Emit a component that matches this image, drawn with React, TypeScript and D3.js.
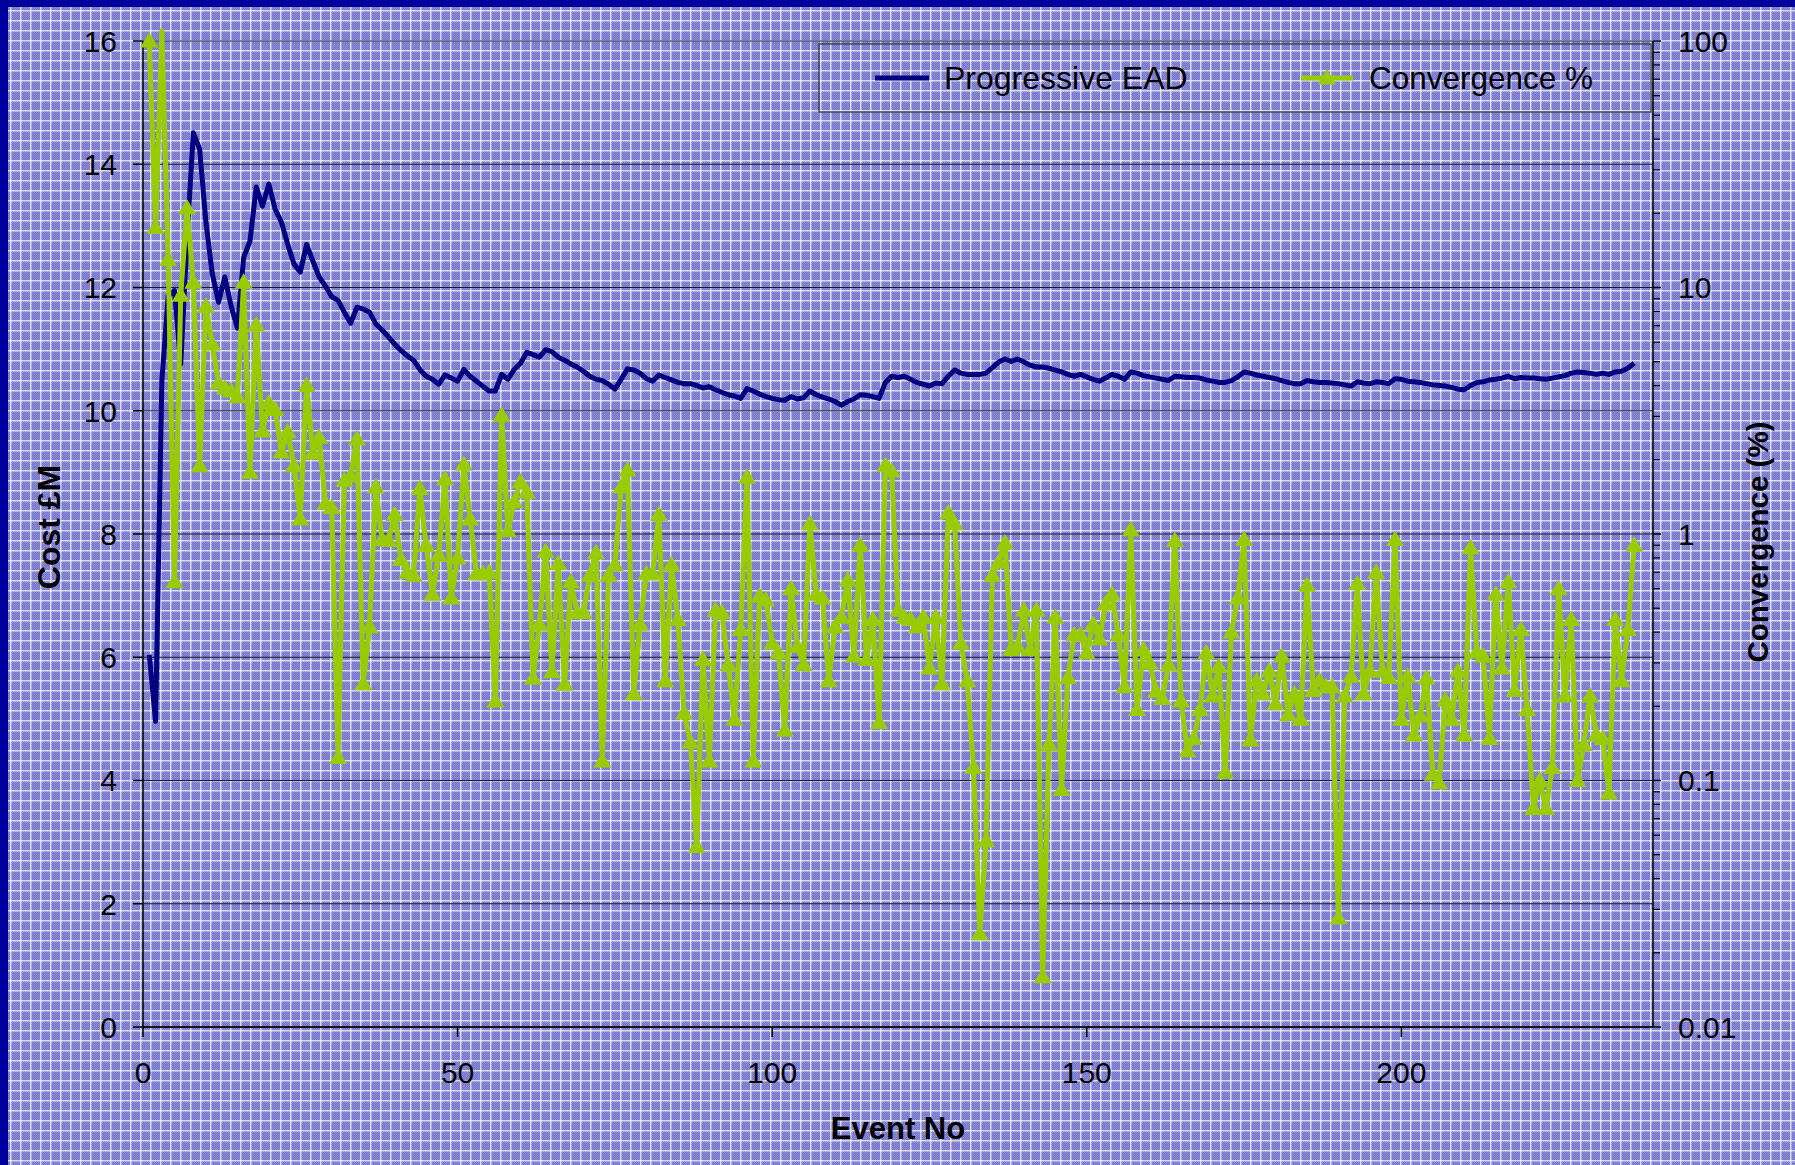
import React from "react";
import * as d3 from "d3";

// Progressive EAD (Cost £M), events 1..237
const eadValues: number[] = [
  6.04, 4.96, 10.5, 11.86, 11.95, 10.76, 12.8, 14.51, 14.25, 13.06,
  12.23, 11.76, 12.17, 11.7, 11.34, 12.49, 12.75, 13.63, 13.32, 13.68,
  13.27, 13.06, 12.7, 12.38, 12.25, 12.7, 12.43, 12.17, 12.02, 11.85,
  11.79, 11.6, 11.42, 11.68, 11.65, 11.6, 11.41, 11.31, 11.2, 11.08,
  10.98, 10.89, 10.82, 10.67, 10.56, 10.51, 10.43, 10.58, 10.53, 10.48,
  10.67, 10.56, 10.48, 10.4, 10.32, 10.32, 10.59, 10.51, 10.67, 10.77,
  10.95, 10.91, 10.87, 10.99, 10.96, 10.87, 10.82, 10.76, 10.71, 10.64,
  10.56, 10.51, 10.49, 10.43, 10.35, 10.51, 10.68, 10.66, 10.61, 10.52,
  10.48, 10.58, 10.54, 10.5, 10.46, 10.44, 10.44, 10.41, 10.37, 10.39,
  10.34, 10.3, 10.26, 10.24, 10.2, 10.36, 10.32, 10.27, 10.23, 10.2,
  10.18, 10.17, 10.23, 10.19, 10.21, 10.32, 10.26, 10.22, 10.19, 10.15,
  10.09, 10.15, 10.19, 10.26, 10.25, 10.23, 10.2, 10.46, 10.56, 10.54,
  10.56, 10.51, 10.46, 10.43, 10.4, 10.45, 10.44, 10.56, 10.66, 10.61,
  10.59, 10.59, 10.59, 10.61, 10.7, 10.79, 10.84, 10.8, 10.84, 10.79,
  10.74, 10.71, 10.71, 10.69, 10.66, 10.63, 10.59, 10.56, 10.59, 10.55,
  10.51, 10.48, 10.53, 10.59, 10.56, 10.51, 10.63, 10.61, 10.57, 10.55,
  10.53, 10.51, 10.49, 10.56, 10.55, 10.54, 10.54, 10.53, 10.5, 10.48,
  10.46, 10.46, 10.49, 10.55, 10.63, 10.61, 10.58, 10.56, 10.54, 10.52,
  10.49, 10.46, 10.44, 10.44, 10.49, 10.47, 10.46, 10.46, 10.45, 10.44,
  10.42, 10.4, 10.47, 10.45, 10.44, 10.47, 10.46, 10.44, 10.52, 10.51,
  10.48, 10.47, 10.46, 10.44, 10.42, 10.41, 10.4, 10.38, 10.35, 10.34,
  10.41, 10.46, 10.47, 10.5, 10.51, 10.53, 10.56, 10.52, 10.54, 10.53,
  10.53, 10.52, 10.51, 10.53, 10.55, 10.57, 10.61, 10.63, 10.62, 10.61,
  10.59, 10.61, 10.59, 10.63, 10.64, 10.69, 10.77,
];

// Convergence %, events 1..237
const convergenceValues: number[] = [
  100, 17.5, 110, 13, 0.64, 9.3, 21, 10.5, 1.89, 8.4,
  5.9, 4.1, 3.9, 3.8, 3.6, 10.5, 1.78, 7.05, 2.62, 3.4,
  3.2, 2.15, 2.6, 1.89, 1.15, 4.0, 2.13, 2.47, 1.33, 1.28,
  0.124, 1.65, 1.72, 2.43, 0.247, 0.42, 1.55, 0.95, 0.94, 1.2,
  0.79, 0.7, 0.68, 1.53, 0.9, 0.57, 0.82, 1.67, 0.55, 0.8,
  1.92, 1.15, 0.69, 0.69, 0.7, 0.21, 3.03, 1.03, 1.35, 1.63,
  1.48, 0.26, 0.43, 0.85, 0.276, 0.76, 0.246, 0.64, 0.48, 0.48,
  0.68, 0.84, 0.12, 0.68, 0.75, 1.55, 1.82, 0.225, 0.43, 0.69,
  0.69, 1.2, 0.254, 0.75, 0.45, 0.188, 0.143, 0.054, 0.31, 0.12,
  0.49, 0.48, 0.295, 0.177, 0.41, 1.7, 0.12, 0.56, 0.54, 0.36,
  0.33, 0.16, 0.6, 0.35, 0.295, 1.1, 0.57, 0.55, 0.254, 0.42,
  0.46, 0.65, 0.32, 0.9, 0.31, 0.45, 0.172, 1.9, 1.8, 0.49,
  0.46, 0.45, 0.42, 0.46, 0.286, 0.46, 0.247, 1.22, 1.1, 0.36,
  0.254, 0.113, 0.0239, 0.057, 0.68, 0.77, 0.92, 0.34, 0.35, 0.49,
  0.34, 0.49, 0.016, 0.14, 0.46, 0.092, 0.262, 0.39, 0.39, 0.33,
  0.43, 0.375, 0.52, 0.57, 0.39, 0.24, 1.04, 0.194, 0.34, 0.3,
  0.23, 0.215, 0.295, 0.94, 0.21, 0.132, 0.148, 0.194, 0.33, 0.22,
  0.29, 0.108, 0.4, 0.55, 0.95, 0.146, 0.254, 0.225, 0.278, 0.205,
  0.32, 0.185, 0.225, 0.177, 0.62, 0.232, 0.254, 0.24, 0.24, 0.0277,
  0.22, 0.265, 0.63, 0.225, 0.278, 0.7, 0.278, 0.262, 0.95, 0.177,
  0.265, 0.153, 0.183, 0.26, 0.106, 0.098, 0.212, 0.177, 0.278, 0.153,
  0.88, 0.333, 0.32, 0.148, 0.57, 0.286, 0.64, 0.232, 0.41, 0.194,
  0.077, 0.1, 0.077, 0.113, 0.6, 0.22, 0.45, 0.1, 0.14, 0.22,
  0.153, 0.148, 0.089, 0.45, 0.254, 0.41, 0.9,
];

const leftTicks = [0, 2, 4, 6, 8, 10, 12, 14, 16];
const xTicks = [0, 50, 100, 150, 200];
const rightTicks = [0.01, 0.1, 1, 10, 100];
const rightTickLabels = ["0.01", "0.1", "1", "10", "100"];
const minorMultipliers = [2, 3, 4, 5, 6, 7, 8, 9];

const seriesNames = ["Progressive EAD", "Convergence %"];
const xTitle = "Event No";
const yLeftTitle = "Cost £M";
const yRightTitle = "Convergence (%)";

const W = 1795;
const H = 1165;
const PL = 143, PR = 1653, PT = 41, PB = 1027;
const FONT = "'Liberation Sans', Arial, Helvetica, sans-serif";
const NAVY = "#000080";
const GREEN = "#99cc00";
const TRI = "M0,-9 L9,6.5 L-9,6.5 Z";

export default function App() {
  const x = d3.scaleLinear().domain([0, 240]).range([PL, PR]);
  const yL = d3.scaleLinear().domain([0, 16]).range([PB, PT]);
  const yR = d3.scaleLog().domain([0.01, 100]).range([PB, PT]);

  const eadLine = d3.line<number>().x((_, i) => x(i + 1)).y((d) => yL(d));
  const convLine = d3.line<number>().x((_, i) => x(i + 1)).y((d) => yR(d));

  const minorTicks: number[] = [];
  for (let k = -2; k <= 1; k++) {
    for (const m of minorMultipliers) minorTicks.push(m * Math.pow(10, k));
  }

  return (
    <div>
      <style>{"body{margin:0;}"}</style>
      <svg width={W} height={H} style={{ display: "block" }} fontFamily={FONT}>
        <defs>
          <pattern id="checker" width="2" height="2" patternUnits="userSpaceOnUse">
            <rect width="2" height="2" fill="#7474c8" />
            <rect width="1" height="1" fill="#8c8cd8" />
            <rect x="1" y="1" width="1" height="1" fill="#8c8cd8" />
          </pattern>
          <pattern id="grid" width="10" height="10" patternUnits="userSpaceOnUse">
            <rect x="0" y="0" width="10" height="1.5" fill="#ffffff" opacity="0.7" />
            <rect x="0" y="0" width="1.5" height="10" fill="#ffffff" opacity="0.7" />
          </pattern>
        </defs>
        <rect x={0} y={0} width={W} height={H} fill="url(#checker)" />
        <rect x={0} y={0} width={W} height={H} fill="url(#grid)" />
        <rect x={0} y={0} width={W} height={7} fill="#00009c" />
        <rect x={0} y={0} width={8} height={H} fill="#00009c" />

        {/* gridlines */}
        {leftTicks.map((t) => (
          <line key={"g" + t} x1={PL} x2={PR} y1={yL(t)} y2={yL(t)} stroke="#1a1a2a" strokeWidth={1} />
        ))}

        {/* axes */}
        <line x1={PL} x2={PL} y1={PT} y2={PB} stroke="#000" strokeWidth={1.5} />
        <line x1={PL} x2={PR} y1={PB} y2={PB} stroke="#000" strokeWidth={1.5} />
        <line x1={PR} x2={PR} y1={PT} y2={PB} stroke="#000" strokeWidth={1.5} />

        {leftTicks.map((t) => (
          <g key={"lt" + t}>
            <line x1={PL - 10} x2={PL} y1={yL(t)} y2={yL(t)} stroke="#000" strokeWidth={1.5} />
            <text x={117} y={yL(t)} dy="0.36em" textAnchor="end" fontSize={30} fill="#000">
              {t}
            </text>
          </g>
        ))}
        {xTicks.map((t) => (
          <g key={"xt" + t}>
            <line x1={x(t)} x2={x(t)} y1={PB} y2={PB + 10} stroke="#000" strokeWidth={1.5} />
            <text x={x(t)} y={1083} textAnchor="middle" fontSize={30} fill="#000">
              {t}
            </text>
          </g>
        ))}
        {minorTicks.map((t, i) => (
          <line key={"mt" + i} x1={PR} x2={PR + 7} y1={yR(t)} y2={yR(t)} stroke="#000" strokeWidth={1.2} />
        ))}
        {rightTicks.map((t, i) => (
          <g key={"rt" + t}>
            <line x1={PR} x2={PR + 8} y1={yR(t)} y2={yR(t)} stroke="#000" strokeWidth={1.5} />
            <text x={1678} y={yR(t)} dy="0.36em" textAnchor="start" fontSize={30} fill="#000">
              {rightTickLabels[i]}
            </text>
          </g>
        ))}

        {/* axis titles */}
        <text x={898} y={1139} textAnchor="middle" fontSize={31} fontWeight="bold" fill="#000">
          {xTitle}
        </text>
        <text
          transform={`translate(48,527) rotate(-90)`}
          dy="0.36em"
          textAnchor="middle"
          fontSize={32}
          fontWeight="bold"
          fill="#000"
        >
          {yLeftTitle}
        </text>
        <text
          transform={`translate(1757,542) rotate(-90)`}
          dy="0.36em"
          textAnchor="middle"
          fontSize={29.5}
          fontWeight="bold"
          fill="#000"
        >
          {yRightTitle}
        </text>

        {/* series */}
        <path d={eadLine(eadValues) || ""} fill="none" stroke={NAVY} strokeWidth={5} strokeLinejoin="round" />
        <path d={convLine(convergenceValues) || ""} fill="none" stroke={GREEN} strokeWidth={5} strokeLinejoin="round" />
        {convergenceValues.map((v, i) =>
          v <= 100 ? (
            <path key={"m" + i} d={TRI} transform={`translate(${x(i + 1)},${yR(v)})`} fill={GREEN} />
          ) : null
        )}

        {/* legend */}
        <rect x={819} y={44} width={832} height={68} fill="none" stroke="#333" strokeWidth={1.2} />
        <line x1={875} x2={929} y1={78} y2={78} stroke={NAVY} strokeWidth={5} />
        <text x={944} y={89} fontSize={32} fill="#000">
          {seriesNames[0]}
        </text>
        <line x1={1301} x2={1353} y1={78} y2={78} stroke={GREEN} strokeWidth={5} />
        <path d={TRI} transform="translate(1327,78)" fill={GREEN} />
        <text x={1369} y={89} fontSize={31.5} fill="#000">
          {seriesNames[1]}
        </text>
      </svg>
    </div>
  );
}
